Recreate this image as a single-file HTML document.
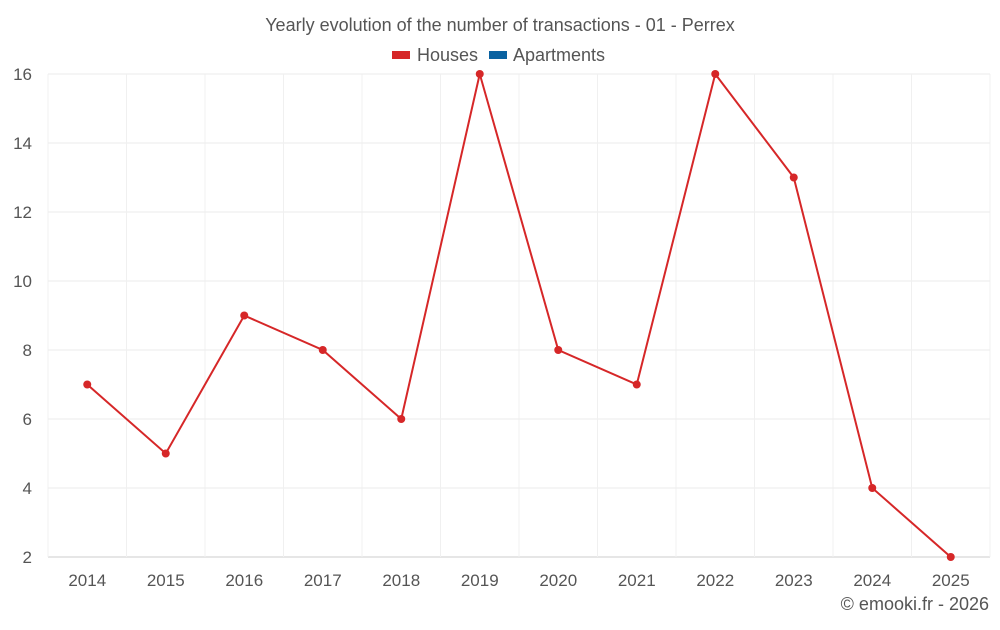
<!DOCTYPE html>
<html><head><meta charset="utf-8"><style>
html,body{margin:0;padding:0;background:#fff;}
svg text{font-family:"Liberation Sans",sans-serif;fill:#555;}
</style></head><body>
<svg id="chart" width="1000" height="625">
<text x="500" y="31" text-anchor="middle" font-size="18">Yearly evolution of the number of transactions - 01 - Perrex</text>
<g>
<g><rect x="392" y="51" width="18" height="8" fill="#d62728"/><text x="417" y="61" font-size="18">Houses</text></g>
<g><rect x="489" y="51" width="18" height="8" fill="#0a62a1"/><text x="513" y="61" font-size="18">Apartments</text></g>
</g>
<g id="grid"></g><g id="axes"></g><g id="series"></g>
<text x="989" y="610" text-anchor="end" font-size="18">© emooki.fr - 2026</text>
</svg>
<script>
const categories=["2014","2015","2016","2017","2018","2019","2020","2021","2022","2023","2024","2025"];
const houses=[7,5,9,8,6,16,8,7,16,13,4,2];
const yTicks=[2,4,6,8,10,12,14,16];
const L=48,R=990,T=74,B=557,yMin=2,yMax=16;
const NS="http://www.w3.org/2000/svg";
const bw=(R-L)/categories.length;
function x(i){return L+bw*(i+0.5);}
function y(v){return B-(v-yMin)/(yMax-yMin)*(B-T);}
function mk(t,a,p){const e=document.createElementNS(NS,t);for(const k in a)e.setAttribute(k,a[k]);p.appendChild(e);return e;}
const grid=document.getElementById('grid'),axes=document.getElementById('axes'),ser=document.getElementById('series');
yTicks.forEach(v=>{
 const l=mk('line',{x1:L,x2:R,y1:y(v),y2:y(v),stroke:v===yMin?'#ccc':'#ebebeb','stroke-width':1},grid);
 
 
 const t=mk('text',{x:32,y:y(v)+6,'text-anchor':'end','font-size':17},axes);t.textContent=v;
 
 
});
for(let i=0;i<=categories.length;i++){
 const l=mk('line',{x1:L+bw*i,x2:L+bw*i,y1:T,y2:B,stroke:'#f0f0f0','stroke-width':1},grid);
 
 
}
categories.forEach((c,i)=>{
 const t=mk('text',{x:x(i),y:586,'text-anchor':'middle','font-size':17},axes);t.textContent=c;
 
 
});
const p=mk('polyline',{points:houses.map((v,i)=>x(i)+','+y(v)).join(' '),fill:'none',stroke:'#d62728','stroke-width':2},ser);


houses.forEach((v,i)=>{
 const c=mk('circle',{cx:x(i),cy:y(v),r:4,fill:'#d62728'},ser);
 
 
});
</script>
</body></html>
